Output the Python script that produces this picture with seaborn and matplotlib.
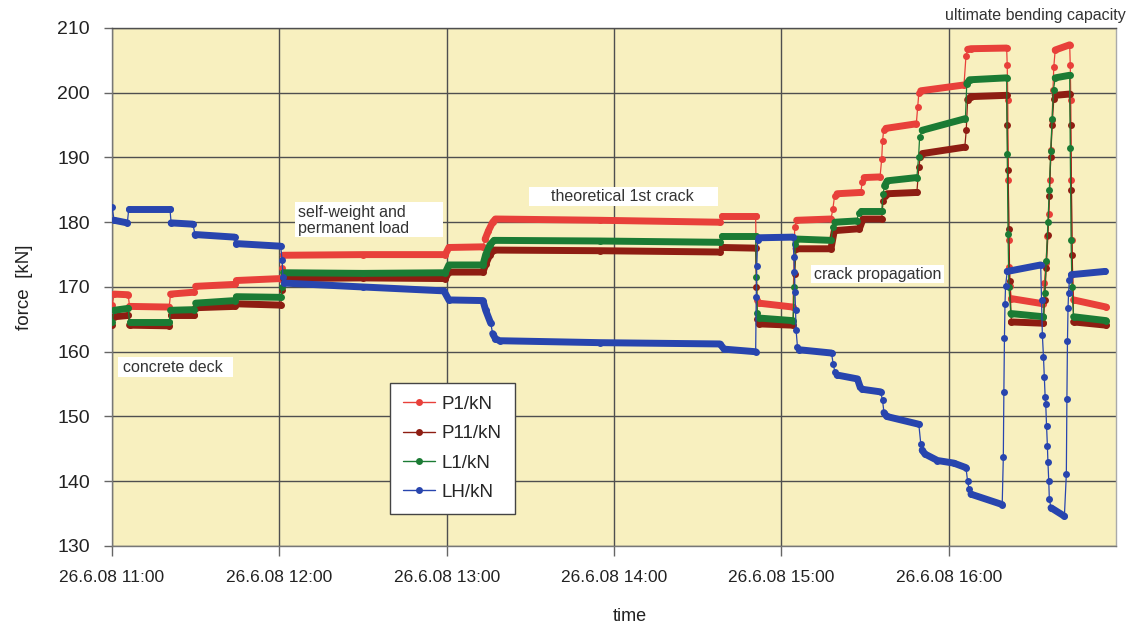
import numpy as np
import pandas as pd
import matplotlib
matplotlib.use("Agg")
import matplotlib.pyplot as plt
from matplotlib.lines import Line2D
from matplotlib.patches import Rectangle
import seaborn as sns

# Load test, 26 June 2008 - measured forces, time in minutes after 11:00
START = pd.Timestamp("2008-06-26 11:00")

p1_min = [0, 0.8, 5.8, 6.3, 20.5, 21.0, 29.5, 30.0, 44.0, 44.6, 60.5, 61.0, 61.4, 90, 119.5,
          120.8, 133, 133.8, 135, 136.5, 137.5, 175, 218, 218.8, 230.8, 231.2, 232, 244.2,
          244.8, 245.5, 257.8, 258.5, 259.1, 260, 268.5, 269.0, 269.7, 275.4, 276.0, 276.3,
          276.7, 277.5, 288.4, 288.9, 289.3, 290, 305.5, 306.2, 306.8, 308, 320.8, 321.0,
          321.2, 321.4, 321.6, 321.8, 322.0, 322.5, 334, 334.3, 334.9, 335.4, 335.9, 336.3,
          336.7, 337.1, 337.4, 337.7, 338.2, 343.4, 343.6, 343.8, 344.0, 344.2, 344.4, 344.8,
          356.5]
p1_kn = [167.2, 168.9, 168.8, 167.0, 166.9, 168.9, 169.2, 170.1, 170.4, 171.0, 171.3, 173.0,
         174.9, 175.0, 175.0, 176.1, 176.2, 177.4, 178.7, 180.0, 180.5, 180.3, 180.0, 180.9,
         180.9, 168.0, 167.5, 166.9, 179.2, 180.3, 180.5, 182.1, 184.1, 184.4, 184.6, 186.2,
         186.9, 187.0, 189.8, 192.6, 194.2, 194.5, 195.2, 197.8, 199.9, 200.3, 201.2, 205.6,
         206.7, 206.8, 206.9, 204.3, 198.9, 186.5, 177.2, 173.1, 170.1, 168.2, 167.4, 170.6,
         173.7, 177.9, 181.3, 186.5, 191.1, 195.8, 200.4, 204.0, 206.6, 207.4, 204.3, 198.9,
         186.5, 177.2, 172.0, 168.0, 166.9]

p11_min = [0, 0.8, 5.8, 6.3, 20.5, 21.0, 29.5, 30.0, 44.0, 44.6, 60.5, 61.0, 61.5, 90, 119.5,
           120.8, 133, 134, 135.5, 137, 175, 218, 218.8, 230.8, 231.1, 231.4, 232, 244.2,
           244.8, 245.3, 257.8, 259, 268, 269.3, 276, 276.5, 277, 278, 288.6, 289.3, 289.8,
           290.5, 305.8, 306.3, 306.8, 308, 320.8, 321.0, 321.3, 321.6, 321.9, 322.5, 334,
           334.4, 335.0, 335.6, 336.1, 336.6, 337.1, 337.7, 338.2, 343.4, 343.7, 344.0, 344.3,
           344.8, 356.5]
p11_kn = [164.2, 165.4, 165.6, 164.1, 164.0, 165.6, 165.6, 166.8, 167.0, 167.4, 167.2, 169.5,
          171.3, 171.4, 171.3, 172.3, 172.3, 173.5, 175.0, 175.7, 175.6, 175.4, 176.1, 176.0,
          170.0, 165.0, 164.3, 164.1, 172.0, 175.9, 175.9, 178.7, 179.0, 180.5, 180.5, 183.3,
          184.1, 184.4, 184.6, 188.5, 190.0, 190.6, 191.6, 194.2, 198.9, 199.4, 199.6, 195.0,
          188.0, 179.0, 171.0, 164.6, 164.4, 168.0, 173.0, 178.0, 184.0, 190.0, 195.0, 199.0,
          199.6, 199.8, 195.0, 185.0, 175.0, 164.6, 164.1]

l1_min = [0, 0.8, 5.8, 6.3, 20.5, 21.0, 29.5, 30.0, 44.0, 44.6, 60.5, 61.0, 61.5, 90, 119.5,
          120.8, 133, 134, 135.5, 137, 175, 218, 218.8, 230.8, 231.1, 231.4, 232, 244.2,
          244.6, 245.0, 245.6, 257.8, 258.5, 259.2, 267, 267.8, 268.5, 276, 276.5, 277, 278,
          288.6, 289.2, 289.6, 290.5, 306, 306.5, 307.5, 320.8, 321.0, 321.3, 321.6, 322.3,
          334, 334.4, 335.0, 335.6, 336.1, 336.6, 337.1, 337.6, 338.2, 343.4, 343.6, 343.9,
          344.2, 344.8, 356.5]
l1_kn = [164.6, 166.4, 166.7, 164.6, 164.6, 166.4, 166.5, 167.5, 167.9, 168.5, 168.4, 170.0,
         172.2, 172.1, 172.2, 173.4, 173.4, 175.0, 176.5, 177.2, 177.1, 176.9, 177.8, 177.8,
         171.5, 166.0, 165.2, 164.8, 170.0, 176.7, 177.4, 177.2, 179.2, 180.0, 180.2, 181.5,
         181.8, 181.8, 184.4, 185.6, 186.4, 186.9, 190.0, 193.2, 194.2, 196.0, 201.4, 202.0,
         202.3, 190.6, 178.2, 170.0, 165.9, 165.4, 169.0, 174.0, 180.0, 185.0, 191.0, 196.0,
         200.5, 202.3, 202.7, 191.4, 177.2, 170.0, 165.4, 164.8]

lh_min = [0, 0.8, 5.5, 6.0, 20.8, 21.2, 29.0, 29.8, 44.0, 44.6, 60.5, 61.0, 61.3, 61.8, 90,
          119, 120.8, 133, 134, 135.8, 136.5, 137.5, 139, 175, 218, 219.5, 230.8, 231.0,
          231.2, 231.5, 232, 244.2, 244.5, 244.7, 244.9, 245.1, 245.3, 245.8, 246.5, 258,
          258.6, 259.2, 260, 267.3, 268.3, 269, 275.6, 276.3, 276.8, 277.8, 289.3, 290.0,
          290.5, 291.5, 296, 301.8, 306.2, 306.8, 307.3, 308, 319.2, 319.6, 319.8, 320.0,
          320.2, 320.4, 321.0, 333, 333.3, 333.6, 334.0, 334.3, 334.6, 334.8, 335.1, 335.4,
          335.6, 335.9, 336.1, 336.7, 341.5, 342.2, 342.4, 342.6, 342.8, 343.0, 343.3, 344,
          356.0]
lh_kn = [182.3, 180.3, 179.9, 182.0, 182.0, 179.9, 179.7, 178.1, 177.7, 176.7, 176.3, 174.2,
         171.5, 170.6, 170.0, 169.4, 168.0, 167.9, 166.4, 164.4, 162.8, 162.0, 161.7, 161.4,
         161.2, 160.4, 160.0, 168.4, 173.3, 177.2, 177.6, 177.7, 174.6, 172.3, 169.2, 166.4,
         163.3, 160.7, 160.3, 159.8, 158.1, 156.9, 156.4, 155.8, 154.5, 154.2, 153.8, 152.5,
         150.6, 150.0, 148.8, 145.8, 144.8, 144.2, 143.2, 142.8, 142.1, 140.0, 138.8, 138.0,
         136.4, 143.7, 153.8, 162.1, 167.3, 170.1, 172.4, 173.4, 168.0, 162.6, 159.2, 156.1,
         153.0, 152.0, 148.6, 145.5, 142.9, 140.0, 137.2, 135.9, 134.6, 141.1, 152.7, 161.6,
         166.7, 169.1, 171.1, 171.9, 172.4]

series_names = ["P1/kN", "P11/kN", "L1/kN", "LH/kN"]
series_min = [p1_min, p11_min, l1_min, lh_min]
series_kn = [p1_kn, p11_kn, l1_kn, lh_kn]
series_colors = ["#E8403A", "#8E1D12", "#1B7B34", "#2845AE"]

y_ticks = [130, 140, 150, 160, 170, 180, 190, 200, 210]
x_tick_labels = ["26.6.08 11:00", "26.6.08 12:00", "26.6.08 13:00",
                 "26.6.08 14:00", "26.6.08 15:00", "26.6.08 16:00"]

# phase annotations: (text, left, right, bottom, top) in minutes / kN
phase_labels = ["concrete deck", "self-weight and\npermanent load",
                "theoretical 1st crack", "crack propagation"]
phase_boxes = [(2.2, 43.5, 156.1, 159.2), (65.8, 118.6, 177.7, 183.1),
               (149.5, 217.4, 182.5, 185.4), (250.8, 298.2, 170.6, 173.4)]
phase_text_pos = [(4.0, 157.6, "left"), (66.6, 180.3, "left"),
                  (183.0, 183.95, "center"), (274.5, 172.0, "center")]

sns.set_theme(style="white")
plt.rcParams["font.family"] = ["Liberation Sans", "DejaVu Sans"]

fig = plt.figure(figsize=(11.3, 6.29), dpi=100)
ax = fig.add_axes([0.0991, 0.132, 0.8885, 0.8235])
ax.set_facecolor("#F8F0BF")
ax.set_axisbelow(True)


def to_time(minutes):
    return START + pd.to_timedelta(np.asarray(minutes, dtype=float), unit="min")


for k, (name, mins, vals, col) in enumerate(zip(series_names, series_min, series_kn, series_colors)):
    df = pd.DataFrame({"time": to_time(mins), "force": vals})
    sns.lineplot(data=df, x="time", y="force", ax=ax, color=col, linewidth=0.9,
                 marker="o", markersize=5, markeredgewidth=0, estimator=None,
                 sort=False, zorder=3 + k)
    # slow-varying stretches drawn as dense bands of samples
    tt = np.asarray(mins, dtype=float)
    flat = np.diff(tt) >= 1.0
    i, n = 0, len(flat)
    while i < n:
        if flat[i]:
            j = i
            while j < n and flat[j]:
                j += 1
            ax.plot(df["time"].iloc[i:j + 1], df["force"].iloc[i:j + 1], color=col,
                    linewidth=5, solid_capstyle="round", zorder=3 + k)
            i = j
        else:
            i += 1

# phase boxes and texts
for label, (l, r, b, t), (tx, ty, ha) in zip(phase_labels, phase_boxes, phase_text_pos):
    x0 = to_time([l])[0]
    x1 = to_time([r])[0]
    ax.add_patch(Rectangle((x0, b), x1 - x0, t - b, facecolor="white",
                           edgecolor="none", zorder=2))
    ax.text(to_time([tx])[0], ty, label, ha=ha, va="center", fontsize=11.5,
            color="#333333", linespacing=1.1, zorder=10)

fig.text(0.916, 0.976, "ultimate bending capacity", ha="center", va="center",
         fontsize=11.5, color="#333333")

ax.set_xlim(START, START + pd.Timedelta(hours=6))
ax.set_ylim(130, 210)
ax.set_yticks(y_ticks)
ax.set_xticks(list(to_time([60 * h for h in range(len(x_tick_labels))])))
ax.set_xticklabels(x_tick_labels)

ax.grid(True, color="#4f4f4f", linewidth=1.0)
for side, col in [("left", "#777777"), ("bottom", "#777777"),
                  ("top", "#4f4f4f"), ("right", "#aaaaaa")]:
    ax.spines[side].set_visible(True)
    ax.spines[side].set_color(col)
    ax.spines[side].set_linewidth(1.0)

ax.tick_params(axis="y", left=True, direction="out", length=6, width=1,
               color="#666666", pad=10, labelsize=14, labelcolor="#222222")
ax.tick_params(axis="x", bottom=True, direction="out", length=7, width=1,
               color="#666666", pad=10, labelsize=12.5, labelcolor="#222222")

ax.set_xlabel("time", fontsize=13, color="#222222")
ax.set_ylabel("force  [kN]", fontsize=13.5, color="#222222")
ax.xaxis.set_label_coords(0.516, -0.12)
ax.yaxis.set_label_coords(-0.079, 0.5)

handles = [Line2D([], [], color=c, linewidth=1, marker="o", markersize=5,
                  markeredgewidth=0) for c in series_colors]
leg = ax.legend(handles, series_names, loc="upper left", bbox_to_anchor=(0.277, 0.315),
                borderaxespad=0, frameon=True, fancybox=False, framealpha=1,
                edgecolor="#444444", fontsize=13.5, handlelength=1.7,
                handletextpad=0.35, labelspacing=0.65, borderpad=0.7, numpoints=1)
leg.get_frame().set_linewidth(1.0)
leg.set_zorder(20)

fig.savefig("out.png", dpi=100, facecolor="white")
